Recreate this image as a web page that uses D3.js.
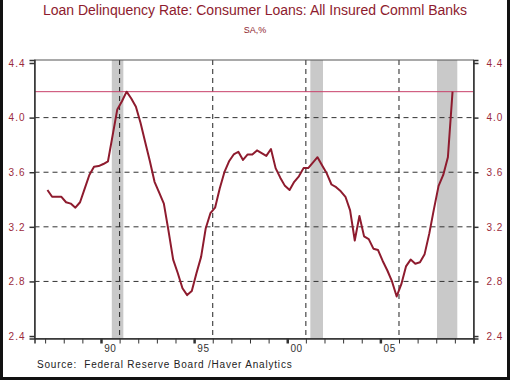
<!DOCTYPE html>
<html lang="en">
<head>
<meta charset="utf-8">
<title>Loan Delinquency Rate</title>
<script src="https://d3js.org/d3.v7.min.js"></script>
<style>
  body { margin: 0; background: #fff; }
  svg { display: block; font-family: "Liberation Sans", Arial, sans-serif; }
</style>
</head>
<body>
<div id="chart"></div>
<script>
// quarterly data, 1987Q1 .. 2008Q4 (%)
var startYear = 1987;
var rate = [
  3.47, 3.42, 3.42, 3.42,
  3.38, 3.37, 3.34, 3.38,
  3.48, 3.58, 3.64, 3.645,
  3.66, 3.68, 3.87, 4.06,
  4.12, 4.19, 4.14, 4.08,
  3.96, 3.82, 3.68, 3.53,
  3.45, 3.37, 3.17, 2.96,
  2.86, 2.75, 2.70, 2.73,
  2.86, 2.98, 3.19, 3.30,
  3.34, 3.48, 3.60, 3.68,
  3.73, 3.75, 3.69, 3.73,
  3.73, 3.76, 3.74, 3.72,
  3.77, 3.63, 3.56, 3.50,
  3.47, 3.53, 3.57, 3.63,
  3.63, 3.67, 3.71, 3.65,
  3.59, 3.51, 3.49, 3.46,
  3.42, 3.32, 3.10, 3.28,
  3.13, 3.11, 3.04, 3.03,
  2.95, 2.88, 2.80, 2.69,
  2.78, 2.91, 2.96, 2.93,
  2.94, 3.00, 3.15, 3.33,
  3.50, 3.58, 3.71, 4.19
];
var recessions = [[1990.58, 1991.2], [2001.24, 2001.92], [2008.04, 2009.13]];
var yTicks = [2.4, 2.8, 3.2, 3.6, 4.0, 4.4];
var yGrid = [2.8, 3.2, 3.6, 4.0];
var majorYears = [1990, 1995, 2000, 2005];
var gridYears = [1991, 1996, 2001, 2006];
var yearLabels = ["90", "95", "00", "05"];
var latest = rate[rate.length - 1];

var W = 510, H = 380;
var margin = {top: 60, right: 36.5, bottom: 41.5, left: 34.5};
var width = W - margin.left - margin.right,
    height = H - margin.top - margin.bottom;

var red = "#8e1b2e", labelRed = "#9c2a3c";

var data = rate.map(function(v, i) {
  return {t: startYear + Math.floor(i / 4) + ((i % 4) + 0.5) / 4, v: v};
});

var svg = d3.select("#chart").append("svg")
    .attr("width", W).attr("height", H);

// outer frame
svg.append("rect")
    .attr("x", 1.5).attr("y", -2).attr("width", W - 3).attr("height", H + 0.5)
    .attr("fill", "none").attr("stroke", "#111").attr("stroke-width", 3);

svg.append("text")
    .attr("x", W / 2).attr("y", 15)
    .attr("text-anchor", "middle")
    .style("font-size", "14px").style("fill", red)
    .text("Loan Delinquency Rate: Consumer Loans: All Insured Comml Banks");

svg.append("text")
    .attr("x", W / 2).attr("y", 33)
    .attr("text-anchor", "middle")
    .style("font-size", "9px").style("fill", red)
    .text("SA,%");

var g = svg.append("g")
    .attr("transform", "translate(" + margin.left + "," + margin.top + ")");

var x = d3.scaleLinear().domain([1986.43, 2010]).range([0, width]);
var y = d3.scaleLinear().domain([2.382, 4.422]).range([height, 0]);

// recession shading
g.selectAll(".rec")
  .data(recessions)
  .enter().append("rect")
    .attr("x", function(d) { return x(d[0]); })
    .attr("width", function(d) { return x(d[1]) - x(d[0]); })
    .attr("y", 0).attr("height", height)
    .attr("fill", "#c9c9c9");

// dashed grid
g.selectAll(".hgrid")
  .data(yGrid)
  .enter().append("line")
    .attr("x1", 0).attr("x2", width)
    .attr("y1", function(d) { return y(d); })
    .attr("y2", function(d) { return y(d); })
    .attr("stroke", "#333").attr("stroke-width", 1)
    .attr("stroke-dasharray", "5,4");

g.selectAll(".vgrid")
  .data(gridYears)
  .enter().append("line")
    .attr("x1", function(d) { return x(d); })
    .attr("x2", function(d) { return x(d); })
    .attr("y1", 0).attr("y2", height)
    .attr("stroke", "#222").attr("stroke-width", 1)
    .attr("stroke-dasharray", "5,4");

// latest value reference line
g.append("line")
    .attr("x1", 0).attr("x2", width)
    .attr("y1", y(latest)).attr("y2", y(latest))
    .attr("stroke", "#c8406a").attr("stroke-width", 1);

// series
var line = d3.line()
    .x(function(d) { return x(d.t); })
    .y(function(d) { return y(d.v); });

g.append("path")
    .datum(data)
    .attr("d", line)
    .attr("fill", "none")
    .attr("stroke", red)
    .attr("stroke-width", 2)
    .attr("stroke-linejoin", "round");

// plot frame
g.append("rect")
    .attr("width", width).attr("height", height)
    .attr("fill", "none").attr("stroke", "#555").attr("stroke-width", 1);

// y axes
var yLeft = d3.axisLeft(y).tickValues(yTicks).tickSize(5).tickPadding(4)
    .tickFormat(d3.format(".1f"));
var yRight = d3.axisRight(y).tickValues(yTicks).tickSize(5).tickPadding(8)
    .tickFormat(d3.format(".1f"));

var gl = g.append("g").call(yLeft);
var gr = g.append("g").attr("transform", "translate(" + width + ",0)").call(yRight);
[gl, gr].forEach(function(a) {
  a.select(".domain").attr("stroke", "#333").attr("stroke-width", 1.5);
  a.selectAll(".tick line").attr("stroke", "#333").attr("stroke-width", 1.5);
  a.selectAll("text").style("font-size", "10px").style("fill", labelRed)
    .style("letter-spacing", "1px").attr("font-family", "Liberation Sans, Arial, sans-serif");
});

// x axis: yearly ticks
var xAxis = d3.axisBottom(x).tickValues(d3.range(1987, 2011)).tickSize(5).tickFormat("");
var gx = g.append("g").attr("transform", "translate(0," + height + ")").call(xAxis);
gx.select(".domain").attr("stroke", "#333").attr("stroke-width", 1.5);
gx.selectAll(".tick line").attr("stroke", "#333")
  .attr("stroke-width", function(d) { return majorYears.indexOf(d) >= 0 ? 2.5 : 1; });

gx.selectAll(".ylab")
  .data(majorYears)
  .enter().append("text")
    .attr("x", function(d) { return x(d + 0.5); })
    .attr("y", 13)
    .attr("text-anchor", "middle")
    .style("font-size", "10px").style("fill", "#333")
    .style("letter-spacing", "0.5px")
    .text(function(d, i) { return yearLabels[i]; });

svg.append("text")
    .attr("x", 37).attr("y", 368)
    .style("font-size", "10px").style("fill", "#222")
    .style("letter-spacing", "0.8px")
    .attr("xml:space", "preserve")
    .text("Source:  Federal Reserve Board /Haver Analytics");
</script>
</body>
</html>
